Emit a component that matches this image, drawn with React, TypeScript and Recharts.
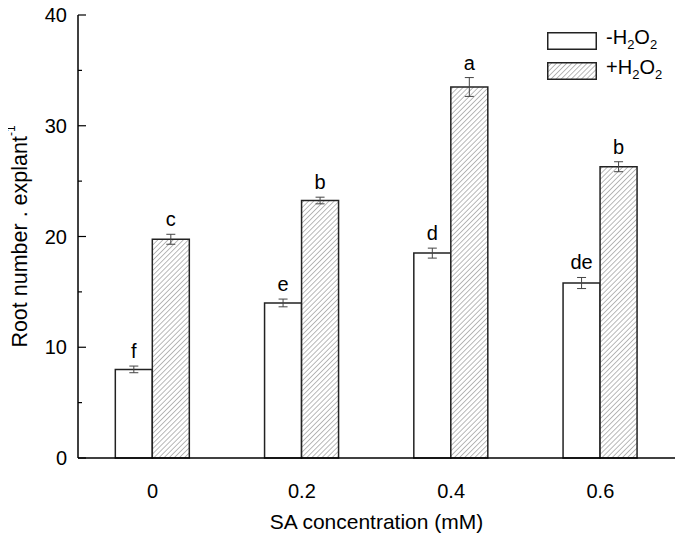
import { Bar, BarChart, ErrorBar, LabelList, XAxis, YAxis } from 'recharts';

const CONCENTRATIONS = ['0', '0.2', '0.4', '0.6'];
const MINUS_H2O2 = [8.0, 14.0, 18.5, 15.8];
const MINUS_ERR = [0.3, 0.35, 0.45, 0.5];
const MINUS_LETTERS = ['f', 'e', 'd', 'de'];
const PLUS_H2O2 = [19.75, 23.25, 33.5, 26.3];
const PLUS_ERR = [0.45, 0.3, 0.85, 0.45];
const PLUS_LETTERS = ['c', 'b', 'a', 'b'];
const Y_TICKS = [0, 5, 10, 15, 20, 25, 30, 35, 40];

const FONT = 'Arial, "Liberation Sans", sans-serif';
const EDGE = '#222';
const HATCH = '#666';

const data = CONCENTRATIONS.map((c, i) => ({
  conc: c,
  minus: MINUS_H2O2[i],
  minusErr: MINUS_ERR[i],
  minusLetter: MINUS_LETTERS[i],
  plus: PLUS_H2O2[i],
  plusErr: PLUS_ERR[i],
  plusLetter: PLUS_LETTERS[i],
}));

function HatchDef({ id }: { id: string }) {
  return (
    <pattern id={id} width={3.6} height={3.6} patternUnits="userSpaceOnUse" patternTransform="rotate(45)">
      <rect width={3.6} height={3.6} fill="#fff" />
      <line x1={0} y1={0} x2={0} y2={3.6} stroke={HATCH} strokeWidth={0.9} />
    </pattern>
  );
}

// letter sits just above the top of the error bar
function letterLabel(values: number[], errs: number[]) {
  return (props: any) => {
    const vb = props.viewBox ?? props;
    const i = props.index;
    if (vb == null || i == null) return null;
    const pxPerUnit = Math.abs(vb.height) / values[i];
    const top = Math.min(vb.y, vb.y + vb.height) - errs[i] * pxPerUnit;
    return (
      <text x={vb.x + vb.width / 2} y={top - 8} textAnchor="middle" fontSize={20} fontFamily={FONT} fill="#000">
        {props.value}
      </text>
    );
  };
}

function YTick({ x, y, payload }: any) {
  const major = payload.value % 10 === 0;
  return (
    <g>
      <line x1={x} x2={x + (major ? 8 : 4)} y1={y} y2={y} stroke="#000" strokeWidth={1.2} />
      {major && (
        <text x={x - 11} y={y} dy="0.35em" textAnchor="end" fontSize={20} fontFamily={FONT} fill="#000">
          {payload.value}
        </text>
      )}
    </g>
  );
}

function YLabel({ viewBox }: any) {
  const cx = 20;
  const cy = viewBox.y + viewBox.height / 2;
  return (
    <text
      x={cx}
      y={cy}
      transform={`rotate(-90 ${cx} ${cy})`}
      textAnchor="middle"
      dominantBaseline="central"
      fontSize={21.5}
      fontFamily={FONT}
      fill="#000"
    >
      Root number . explant
      <tspan fontSize={12} dy={-9}>-1</tspan>
    </text>
  );
}

function XLabel({ viewBox }: any) {
  return (
    <text x={viewBox.x + viewBox.width / 2} y={viewBox.y + 71} textAnchor="middle" fontSize={21} fontFamily={FONT} fill="#000">
      SA concentration (mM)
    </text>
  );
}

function H2O2({ sign }: { sign: string }) {
  return (
    <span>
      {sign}H<sub style={{ fontSize: 13, verticalAlign: -5 }}>2</sub>O<sub style={{ fontSize: 13, verticalAlign: -5 }}>2</sub>
    </span>
  );
}

function ChartLegend() {
  const row = { display: 'flex', alignItems: 'center', height: 30 } as const;
  return (
    <div style={{ position: 'absolute', left: 547, top: 26, fontFamily: FONT, fontSize: 20, lineHeight: '20px' }}>
      <div style={row}>
        <svg width={50} height={18} style={{ marginRight: 9 }}>
          <rect x={0.75} y={0.75} width={48.5} height={16.5} fill="#fff" stroke={EDGE} strokeWidth={1.5} />
        </svg>
        <H2O2 sign="-" />
      </div>
      <div style={row}>
        <svg width={50} height={18} style={{ marginRight: 9 }}>
          <defs>
            <HatchDef id="hatch-legend" />
          </defs>
          <rect x={0.75} y={0.75} width={48.5} height={16.5} fill="url(#hatch-legend)" stroke={EDGE} strokeWidth={1.5} />
        </svg>
        <H2O2 sign="+" />
      </div>
    </div>
  );
}

export default function App() {
  return (
    <div style={{ position: 'relative', width: 683, height: 541, margin: '-8px 0 0 -8px' }}>
      <BarChart
        width={683}
        height={541}
        data={data}
        margin={{ top: 15, right: 8, left: 28, bottom: 0 }}
        barCategoryGap="25%"
        barGap={0}
      >
        <defs>
          <HatchDef id="hatch-bar" />
        </defs>
        <XAxis
          dataKey="conc"
          height={83}
          tickLine={false}
          tickSize={0}
          tickMargin={26}
          axisLine={{ stroke: '#000', strokeWidth: 1.5 }}
          tick={{ fill: '#000', fontSize: 20, fontFamily: FONT }}
          label={<XLabel />}
        />
        <YAxis
          width={50}
          domain={[0, 40]}
          ticks={Y_TICKS}
          interval={0}
          tickLine={false}
          tickSize={0}
          tickMargin={0}
          axisLine={{ stroke: '#000', strokeWidth: 1.5 }}
          tick={<YTick />}
          label={<YLabel />}
        />
        <Bar dataKey="minus" fill="#fff" stroke={EDGE} strokeWidth={1.5} isAnimationActive={false}>
          <ErrorBar dataKey="minusErr" width={4.5} stroke="#444" strokeWidth={1} />
          <LabelList dataKey="minusLetter" content={letterLabel(MINUS_H2O2, MINUS_ERR)} />
        </Bar>
        <Bar dataKey="plus" fill="url(#hatch-bar)" stroke={EDGE} strokeWidth={1.5} isAnimationActive={false}>
          <ErrorBar dataKey="plusErr" width={4.5} stroke="#444" strokeWidth={1} />
          <LabelList dataKey="plusLetter" content={letterLabel(PLUS_H2O2, PLUS_ERR)} />
        </Bar>
      </BarChart>
      <ChartLegend />
    </div>
  );
}
